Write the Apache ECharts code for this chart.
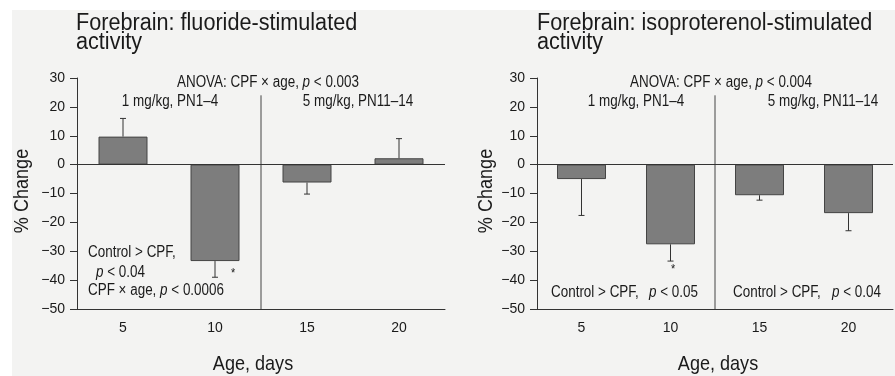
<!DOCTYPE html>
<html>
<head>
<meta charset="utf-8">
<script src="https://cdn.jsdelivr.net/npm/echarts@6/dist/echarts.min.js"></script>
<style>
html,body{margin:0;padding:0;background:#fff;}
#chart{width:895px;height:376px;}
</style>
</head>
<body>
<div id="chart"></div>
<script>
// ---- data ----
const ages = ['5', '10', '15', '20'];
const fluorideMeans = [9.7, -33.4, -6.2, 2.2];
const fluorideSem = [6.3, 5.6, 4.0, 6.8];
const isoMeans = [-5.0, -27.6, -10.6, -16.8];
const isoSem = [12.6, 5.8, 1.7, 6.1];
const yTicks = { min: -50, max: 30, step: 10 };
const doseSplit = 2;      // boundary between age 10 and 15 (hidden value axis units)
const splitTop = 24;

const FONT = '"Liberation Sans", Arial, sans-serif';
const TXT = '#1a1a1a';
const SX = 0.84;

function errData(means, sems) {
  return means.map((m, i) => [i, m, m >= 0 ? m + sems[i] : m - sems[i]]);
}
function errRender(params, api) {
  const p0 = api.coord([api.value(0), api.value(1)]);
  const p1 = api.coord([api.value(0), api.value(2)]);
  const st = { stroke: '#333', lineWidth: 1 };
  return {
    type: 'group',
    children: [
      { type: 'line', shape: { x1: p0[0], y1: p0[1], x2: p1[0], y2: p1[1] }, style: st },
      { type: 'line', shape: { x1: p1[0] - 3, y1: p1[1], x2: p1[0] + 3, y2: p1[1] }, style: st }
    ]
  };
}

const catAxis = (gi) => ({
  type: 'category', gridIndex: gi, data: ages,
  axisLine: { onZero: false, lineStyle: { color: '#333', width: 1 } },
  axisTick: { alignWithLabel: true, length: 6, lineStyle: { color: '#333' } },
  axisLabel: { color: TXT, fontFamily: FONT, fontSize: 14, margin: 12 }
});
const hiddenAxis = (gi) => ({ type: 'value', gridIndex: gi, min: 0, max: ages.length, show: false });
const yAxis = (gi) => ({
  type: 'value', gridIndex: gi, min: yTicks.min, max: yTicks.max, interval: yTicks.step,
  axisLine: { show: true, lineStyle: { color: '#333', width: 1 } },
  axisTick: { show: true, length: 7, lineStyle: { color: '#333' } },
  splitLine: { show: false },
  axisLabel: { color: TXT, fontFamily: FONT, fontSize: 14, margin: 12,
    formatter: v => String(v).replace('-', '\u2212') }
});

const barSeries = (gi, means) => ({
  type: 'bar', xAxisIndex: gi * 2, yAxisIndex: gi, data: means, barWidth: 49,
  itemStyle: { color: '#7d7d7d', borderColor: '#444', borderWidth: 1 },
  markLine: {
    silent: true, symbol: 'none', label: { show: false },
    lineStyle: { color: '#333', width: 1, type: 'solid' },
    data: [{ yAxis: 0 }]
  },
  z: 3
});
const errSeries = (gi, means, sems) => ({
  type: 'custom', xAxisIndex: gi * 2, yAxisIndex: gi, data: errData(means, sems),
  renderItem: errRender, z: 2
});
const splitSeries = (gi) => ({
  type: 'line', xAxisIndex: gi * 2 + 1, yAxisIndex: gi, symbol: 'none',
  data: [[doseSplit, splitTop], [doseSplit, yTicks.min]],
  lineStyle: { color: '#444', width: 1 }, silent: true
});

function txt(x, y, text, opts, extra) {
  return Object.assign({
    type: 'text', x: x, y: y, silent: true, scaleX: SX,
    style: Object.assign({
      text: text, fill: TXT, font: '16px ' + FONT,
      textAlign: 'left', textVerticalAlign: 'middle',
      rich: { i: { fontStyle: 'italic', fontSize: 16, fontFamily: FONT, fill: TXT } }
    }, opts || {})
  }, extra || {});
}

const graphics = [
  { type: 'rect', shape: { x: 0, y: 0, width: 895, height: 10 }, style: { fill: '#fff' }, z: -10, silent: true },
  { type: 'rect', shape: { x: 0, y: 0, width: 12, height: 376 }, style: { fill: '#fff' }, z: -10, silent: true },
  // titles
  txt(76, 24, 'Forebrain: fluoride-stimulated', { font: '23px ' + FONT }, { scaleX: 0.94 }),
  txt(76, 43, 'activity', { font: '23px ' + FONT }, { scaleX: 0.94 }),
  txt(537, 24, 'Forebrain: isoproterenol-stimulated', { font: '23px ' + FONT }, { scaleX: 0.94 }),
  txt(537, 43, 'activity', { font: '23px ' + FONT }, { scaleX: 0.94 }),
  // axis names
  txt(253, 364, 'Age, days', { font: '21px ' + FONT, textAlign: 'center' }, { scaleX: 0.86 }),
  txt(718, 364, 'Age, days', { font: '21px ' + FONT, textAlign: 'center' }, { scaleX: 0.86 }),
  txt(22, 191, '% Change', { font: '21px ' + FONT, textAlign: 'center' }, { scaleX: 0.86, rotation: Math.PI / 2 }),
  txt(486, 191, '% Change', { font: '21px ' + FONT, textAlign: 'center' }, { scaleX: 0.86, rotation: Math.PI / 2 }),
  // left annotations
  txt(268, 83, 'ANOVA: CPF \u00d7 age, {i|p} < 0.003', { textAlign: 'center' }),
  txt(170, 102, '1 mg/kg, PN1\u20134', { textAlign: 'center' }),
  txt(358, 102, '5 mg/kg, PN11\u201314', { textAlign: 'center' }),
  txt(88, 253, 'Control > CPF,'),
  txt(96, 273, '{i|p} < 0.04'),
  txt(88, 291, 'CPF \u00d7 age, {i|p} < 0.0006'),
  txt(233, 273, '*', { textAlign: 'center', font: '13px ' + FONT }),
  // right annotations
  txt(721, 83, 'ANOVA: CPF \u00d7 age, {i|p} < 0.004', { textAlign: 'center' }),
  txt(636, 102, '1 mg/kg, PN1\u20134', { textAlign: 'center' }),
  txt(823, 102, '5 mg/kg, PN11\u201314', { textAlign: 'center' }),
  txt(551, 293, 'Control > CPF,'),
  txt(649, 293, '{i|p} < 0.05'),
  txt(733, 293, 'Control > CPF,'),
  txt(832, 293, '{i|p} < 0.04'),
  txt(673, 269, '*', { textAlign: 'center', font: '13px ' + FONT })
];

const chart = echarts.init(document.getElementById('chart'), null, { renderer: 'canvas' });
chart.setOption({
  backgroundColor: '#f3f3f2',
  animation: false,
  textStyle: { fontFamily: FONT },
  grid: [
    { left: 77, top: 78, width: 368, height: 231 },
    { left: 537, top: 78, width: 356, height: 231 }
  ],
  xAxis: [catAxis(0), hiddenAxis(0), catAxis(1), hiddenAxis(1)],
  yAxis: [yAxis(0), yAxis(1)],
  series: [
    barSeries(0, fluorideMeans), errSeries(0, fluorideMeans, fluorideSem), splitSeries(0),
    barSeries(1, isoMeans), errSeries(1, isoMeans, isoSem), splitSeries(1)
  ],
  graphic: graphics
});
</script>
</body>
</html>
